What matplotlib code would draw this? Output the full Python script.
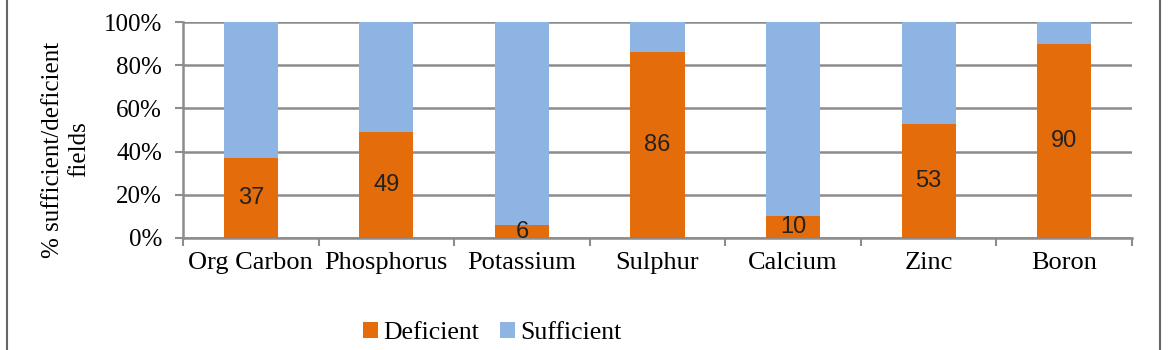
import matplotlib.pyplot as plt
from matplotlib.lines import Line2D
import numpy as np

nutrients = ['Org Carbon', 'Phosphorus', 'Potassium', 'Sulphur', 'Calcium', 'Zinc', 'Boron']
deficient = [37, 49, 6, 86, 10, 53, 90]
sufficient = [63, 51, 94, 14, 90, 47, 10]

orange = '#E46C0A'
blue = '#8EB4E3'
grid_col = '#8C8C8C'

fig = plt.figure(figsize=(11.7, 3.5), dpi=100)
ax = fig.add_axes([183 / 1170, 1 - 238 / 350, (1132 - 183) / 1170, (238 - 22) / 350])

x = np.arange(len(nutrients))
ax.bar(x, deficient, width=0.4, color=orange, label='Deficient', zorder=3)
ax.bar(x, sufficient, width=0.4, bottom=deficient, color=blue, label='Sufficient', zorder=3)

for xi, d in zip(x, deficient):
    ax.text(xi, d / 2, str(d), ha='center', va='center', fontsize=17,
            family='Liberation Sans', color='#222222', zorder=4)

ax.set_xlim(-0.5, len(nutrients) - 0.5)
ax.set_ylim(0, 100)
ax.set_yticks(range(0, 101, 20))
ax.set_yticklabels(['{}%'.format(v) for v in range(0, 101, 20)],
                   family='Liberation Serif', fontsize=18)
ax.set_xticks(np.arange(-0.5, len(nutrients), 1.0))
ax.set_xticklabels([])
ax.set_xticks(x, minor=True)
ax.set_xticklabels(nutrients, minor=True, family='Liberation Serif', fontsize=19)
ax.tick_params(axis='x', which='minor', length=0, pad=10)
ax.tick_params(axis='x', which='major', length=6, width=1.5, color=grid_col)
ax.tick_params(axis='y', length=6, width=1.5, color=grid_col, pad=9)

ax.grid(axis='y', color=grid_col, linewidth=1.8, zorder=0)
ax.spines['top'].set_visible(False)
ax.spines['right'].set_visible(False)
ax.spines['left'].set_color(grid_col)
ax.spines['left'].set_linewidth(1.8)
ax.spines['bottom'].set_color(grid_col)
ax.spines['bottom'].set_linewidth(1.8)

ax.set_ylabel('% sufficient/deficient\nfields', family='Liberation Serif',
              fontsize=18, linespacing=1.25)
ax.yaxis.set_label_coords(-93 / 949, 0.41)

fig.legend(loc='center', bbox_to_anchor=(492 / 1170, 1 - 333 / 350), ncol=2,
           frameon=False, prop={'family': 'Liberation Serif', 'size': 18.5},
           handlelength=0.6, handleheight=0.6, handletextpad=0.2, columnspacing=0.8)

# outer frame lines
fig.add_artist(Line2D([7 / 1170, 7 / 1170], [0, 1], transform=fig.transFigure,
                      color='#666666', linewidth=1.5))
fig.add_artist(Line2D([1160 / 1170, 1160 / 1170], [0, 1], transform=fig.transFigure,
                      color='#666666', linewidth=1.5))

fig.savefig('out.png', dpi=100)
